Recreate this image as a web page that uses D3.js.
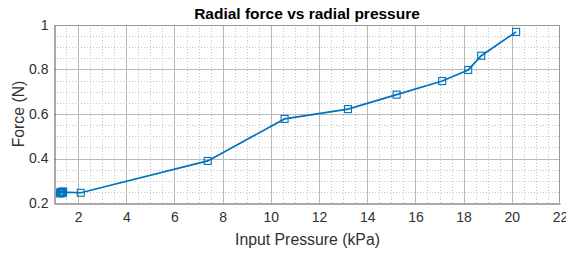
<!DOCTYPE html>
<html>
<head>
<meta charset="utf-8">
<script src="https://cdn.jsdelivr.net/npm/d3@7"></script>
<style>
  body { margin: 0; background: #fff; }
  text { font-family: "Liberation Sans", Arial, Helvetica, sans-serif; fill: #303030; }
</style>
</head>
<body>
<div id="chart"></div>
<script>
// readings (pressure in kPa, force in N)
var pressure = [1.25, 1.38, 1.27, 1.36, 1.30, 1.33, 2.11, 7.38, 10.57, 13.2, 15.22, 17.11, 18.19, 18.73, 20.18];
var force    = [0.243, 0.252, 0.250, 0.244, 0.247, 0.249, 0.246, 0.389, 0.578, 0.622, 0.687, 0.748, 0.798, 0.862, 0.969];

var xTicks = [2, 4, 6, 8, 10, 12, 14, 16, 18, 20, 22];
var yTicks = [0.2, 0.4, 0.6, 0.8, 1];

var title = "Radial force vs radial pressure";
var xLabel = "Input Pressure (kPa)";
var yLabel = "Force (N)";

var width = 566;
var height = 253;
var margin = { top: 25, left: 54, right: 6, bottom: 50 };
var plotWidth = width - margin.left - margin.right;
var plotHeight = height - margin.top - margin.bottom;

var data = pressure.map(function(p, i) { return { p: p, f: force[i] }; });

var svg = d3.select("#chart")
  .append("svg")
    .attr("width", width)
    .attr("height", height);

var g = svg.append("g")
  .attr("transform", "translate(" + margin.left + "," + margin.top + ")");

var x = d3.scaleLinear()
  .domain([1, 22])
  .range([0, plotWidth]);

var y = d3.scaleLinear()
  .domain([0.2, 1])
  .range([plotHeight, 0]);

// minor grid (dotted)
g.append("g")
  .selectAll("line")
  .data(d3.range(1.5, 22, 0.5).filter(function(v) { return Math.abs(v % 2) > 0.01; }))
  .enter()
  .append("line")
  .attr("x1", function(d) { return Math.round(x(d)) + 0.5; })
  .attr("x2", function(d) { return Math.round(x(d)) + 0.5; })
  .attr("y1", 0)
  .attr("y2", plotHeight)
  .attr("stroke", "#c4c4c4")
  .attr("stroke-dasharray", "1,2");

g.append("g")
  .selectAll("line")
  .data(d3.range(0.25, 1, 0.05).filter(function(v) { return Math.abs(Math.round(v * 100) % 20) > 0.5; }))
  .enter()
  .append("line")
  .attr("y1", function(d) { return Math.round(y(d)) + 0.5; })
  .attr("y2", function(d) { return Math.round(y(d)) + 0.5; })
  .attr("x1", 0)
  .attr("x2", plotWidth)
  .attr("stroke", "#c4c4c4")
  .attr("stroke-dasharray", "1,2");

// major grid
g.append("g")
  .selectAll("line")
  .data(xTicks.slice(0, -1))
  .enter()
  .append("line")
  .attr("x1", function(d) { return Math.round(x(d)) + 0.5; })
  .attr("x2", function(d) { return Math.round(x(d)) + 0.5; })
  .attr("y1", 0)
  .attr("y2", plotHeight)
  .attr("stroke", "#b8b8b8");

g.append("g")
  .selectAll("line")
  .data(yTicks.slice(1, -1))
  .enter()
  .append("line")
  .attr("y1", function(d) { return Math.round(y(d)) + 0.5; })
  .attr("y2", function(d) { return Math.round(y(d)) + 0.5; })
  .attr("x1", 0)
  .attr("x2", plotWidth)
  .attr("stroke", "#b8b8b8");

// box (top + right lighter)
g.append("path")
  .attr("d", "M0.5,0.5H" + (plotWidth - 0.5) + "V" + plotHeight)
  .attr("fill", "none")
  .attr("stroke", "#999");

var xAxis = d3.axisBottom(x).tickValues(xTicks).tickSize(0).tickPadding(9).tickFormat(d3.format("d"));
var yAxis = d3.axisLeft(y).tickValues(yTicks).tickSize(0).tickPadding(6).tickFormat(d3.format("~g"));

g.append("g")
  .attr("class", "x-axis")
  .attr("transform", "translate(0," + (plotHeight + 0.5) + ")")
  .call(xAxis);

g.append("g")
  .attr("class", "y-axis")
  .attr("transform", "translate(0.5,0)")
  .call(yAxis);

g.selectAll(".x-axis .domain, .y-axis .domain")
  .attr("stroke", "#555");

g.selectAll(".tick text")
  .style("font-size", "14px")
  .style("font-family", "'Liberation Sans', Arial, sans-serif")
  .attr("fill", "#303030");

// data line
g.append("path")
  .datum(data)
  .attr("fill", "none")
  .attr("stroke", "#0072BD")
  .attr("stroke-width", 1.7)
  .attr("d", d3.line()
    .x(function(d) { return x(d.p); })
    .y(function(d) { return y(d.f); }));

// square markers
g.append("g")
  .selectAll("rect")
  .data(data)
  .enter()
  .append("rect")
  .attr("x", function(d) { return x(d.p) - 3.5; })
  .attr("y", function(d) { return y(d.f) - 3.5; })
  .attr("width", 7)
  .attr("height", 7)
  .attr("fill", "none")
  .attr("stroke", "#0072BD")
  .attr("stroke-width", 1.1);

// titles
svg.append("text")
  .attr("x", margin.left + plotWidth / 2)
  .attr("y", 19)
  .attr("text-anchor", "middle")
  .style("font-size", "15.5px")
  .style("font-weight", "bold")
  .style("fill", "#000")
  .text(title);

svg.append("text")
  .attr("x", margin.left + plotWidth / 2 + 0.5)
  .attr("y", 245)
  .attr("text-anchor", "middle")
  .style("font-size", "15.8px")
  .text(xLabel);

svg.append("text")
  .attr("transform", "translate(24," + (margin.top + plotHeight / 2) + ") rotate(-90)")
  .attr("text-anchor", "middle")
  .style("font-size", "15.8px")
  .text(yLabel);
</script>
</body>
</html>
